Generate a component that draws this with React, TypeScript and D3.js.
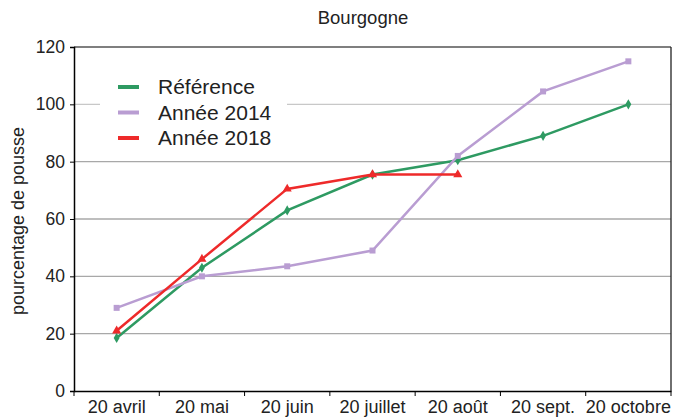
import * as d3 from "d3";
import React, { useEffect, useRef } from "react";

const months = ["20 avril", "20 mai", "20 juin", "20 juillet", "20 août", "20 sept.", "20 octobre"];
const reference = [18.5, 43, 63, 75.5, 80.5, 89, 100];
const annee2014 = [29, 40, 43.5, 49, 82, 104.5, 115];
const annee2018 = [21, 46, 70.5, 75.5, 75.5];
const yTicks = [0, 20, 40, 60, 80, 100, 120];

const series = [
    { name: "Référence", values: reference, color: "#2e9a62", symbol: d3.symbolDiamond, size: 30 },
    { name: "Année 2014", values: annee2014, color: "#b99dd2", symbol: d3.symbolSquare, size: 36 },
    { name: "Année 2018", values: annee2018, color: "#ee2a2a", symbol: d3.symbolTriangle, size: 36 },
];

export default function App() {
    const svgRef = useRef<SVGSVGElement>(null);

    useEffect(() => {
        const W = 681, H = 417;
        const margin = { top: 47, right: 10, bottom: 26, left: 74 };
        const width = W - margin.left - margin.right;
        const height = H - margin.top - margin.bottom;
        const font = "'Liberation Sans', Arial, sans-serif";

        const svg = d3.select(svgRef.current);
        svg.selectAll("*").remove();
        svg.attr("font-family", font);

        const g = svg.append("g").attr("transform", `translate(${margin.left},${margin.top})`);

        const x = d3.scaleBand().domain(months).range([0, width]);
        const y = d3.scaleLinear().domain([0, 120]).range([height, 0]);
        const cx = (i: number) => (x(months[i]) as number) + x.bandwidth() / 2;

        // grid
        g.selectAll(".grid")
            .data(yTicks.filter(d => d > 0 && d < 120))
            .enter().append("line")
            .attr("x1", 0).attr("x2", width)
            .attr("y1", d => y(d)).attr("y2", d => y(d))
            .attr("stroke", d => d === 100 ? "#c8c8c8" : "#a8a8a8")
            .attr("stroke-width", 1.3);

        // frame top / right
        g.append("line").attr("x1", 0).attr("x2", width).attr("y1", 0).attr("y2", 0)
            .attr("stroke", "#555").attr("stroke-width", 1.3);
        g.append("line").attr("x1", width).attr("x2", width).attr("y1", 0).attr("y2", height)
            .attr("stroke", "#222").attr("stroke-width", 1.3);

        // legend background (hides gridline)
        g.append("rect").attr("x", 26).attr("y", 12).attr("width", 187).attr("height", 80).attr("fill", "#fff");

        // axes
        const yAxis = g.append("g").call(d3.axisLeft(y).tickValues(yTicks).tickSize(4).tickPadding(5));
        yAxis.select(".domain").attr("stroke", "#000").attr("stroke-width", 1.5);
        yAxis.selectAll(".tick line").attr("stroke", "#000");
        yAxis.selectAll("text").attr("font-size", 17.5).attr("fill", "#222").attr("font-family", font);

        const xAxis = g.append("g").attr("transform", `translate(0,${height})`)
            .call(d3.axisBottom(x).tickSize(0).tickPadding(9));
        xAxis.select(".domain").attr("stroke", "#000").attr("stroke-width", 1.5);
        xAxis.selectAll("text").attr("font-size", 18).attr("fill", "#222").attr("font-family", font);
        // tick marks on band boundaries
        g.selectAll(".xtick")
            .data(d3.range(months.length + 1))
            .enter().append("line")
            .attr("x1", i => i * x.step()).attr("x2", i => i * x.step())
            .attr("y1", height).attr("y2", height + 5)
            .attr("stroke", "#000");

        // lines + markers
        const line = d3.line<number>().x((d, i) => cx(i)).y(d => y(d));
        series.forEach(s => {
            g.append("path")
                .attr("d", line(s.values))
                .attr("fill", "none")
                .attr("stroke", s.color)
                .attr("stroke-width", 2.5);
            g.selectAll(null)
                .data(s.values)
                .enter().append("path")
                .attr("d", d3.symbol().type(s.symbol).size(s.size)())
                .attr("transform", (d, i) => `translate(${cx(i)},${y(d)})`)
                .attr("fill", s.color);
        });

        // legend
        const leg = g.append("g").attr("transform", "translate(44,40)");
        series.forEach((s, i) => {
            leg.append("line").attr("x1", 0).attr("x2", 21)
                .attr("y1", i * 25.5).attr("y2", i * 25.5)
                .attr("stroke", s.color).attr("stroke-width", 4);
            leg.append("text").attr("x", 40).attr("y", i * 25.5).attr("dy", "0.35em")
                .attr("font-size", 21).attr("fill", "#222").text(s.name);
        });

        // title
        svg.append("text").attr("x", 363).attr("y", 24).attr("text-anchor", "middle")
            .attr("font-size", 18.5).attr("fill", "#222").text("Bourgogne");

        // y label
        svg.append("text").attr("transform", `translate(24,${margin.top + height / 2 + 2}) rotate(-90)`)
            .attr("text-anchor", "middle").attr("font-size", 18).attr("fill", "#222")
            .text("pourcentage de pousse");

        return () => { svg.selectAll("*").remove(); };
    }, []);

    return (
        <svg ref={svgRef} width={681} height={417} style={{ position: "absolute", left: 0, top: 0, background: "#fff" }} />
    );
}
